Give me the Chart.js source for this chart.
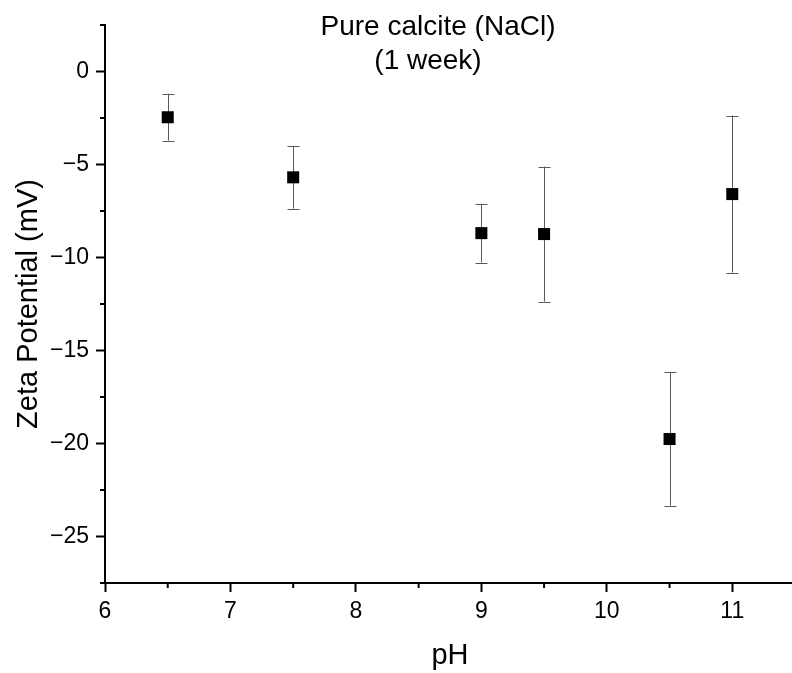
<!DOCTYPE html>
<html>
<head>
<meta charset="utf-8">
<script src="https://cdn.jsdelivr.net/npm/chart.js@4.4.1/dist/chart.umd.min.js"></script>
<style>
  html, body { margin: 0; padding: 0; background: #fff; overflow: hidden; }
  .chart-container { width: 795px; height: 673px; }
</style>
</head>
<body>
<div class="chart-container">
  <canvas id="zetaChart" width="795" height="673"></canvas>
</div>
<script>
// --- data ---
const phValues = [6.5, 7.5, 9, 9.5, 10.5, 11];
const zetaValues = [-2.46, -5.69, -8.69, -8.74, -19.76, -6.59];
const zetaErrors = [1.26, 1.68, 1.58, 3.63, 3.58, 4.22];

const xTickValues = [6, 7, 8, 9, 10, 11];
const yTickValues = [-25, -20, -15, -10, -5, 0];
const xMinorTicks = [6.5, 7.5, 8.5, 9.5, 10.5, 11.5];
const yMinorTicks = [2.5, -2.5, -7.5, -12.5, -17.5, -22.5, -27.5];

const titleLines = ['Pure calcite (NaCl)', '(1 week)'];
const FONT = '"Liberation Sans", Arial, sans-serif';

const minus = (v) => String(v).replace('-', '\u2212');

// error bars, drawn through the chart scales
const errorBars = {
  id: 'errorBars',
  beforeDatasetsDraw(chart) {
    const { ctx, scales: { x, y } } = chart;
    ctx.save();
    ctx.strokeStyle = '#5a5a5a';
    ctx.lineWidth = 1;
    phValues.forEach((ph, i) => {
      const px = Math.round(x.getPixelForValue(ph)) + 0.5;
      const top = y.getPixelForValue(zetaValues[i] + zetaErrors[i]);
      const bot = y.getPixelForValue(zetaValues[i] - zetaErrors[i]);
      ctx.beginPath();
      ctx.moveTo(px, top); ctx.lineTo(px, bot);
      ctx.moveTo(px - 6, Math.round(top) + 0.5); ctx.lineTo(px + 6, Math.round(top) + 0.5);
      ctx.moveTo(px - 6, Math.round(bot) + 0.5); ctx.lineTo(px + 6, Math.round(bot) + 0.5);
      ctx.stroke();
    });
    ctx.restore();
  }
};

// minor ticks (Chart.js has none for linear axes)
const minorTicks = {
  id: 'minorTicks',
  afterDraw(chart) {
    const { ctx, chartArea, scales: { x, y } } = chart;
    ctx.save();
    ctx.strokeStyle = '#000';
    ctx.lineWidth = 2;
    ctx.beginPath();
    xMinorTicks.forEach(v => {
      const px = x.getPixelForValue(v);
      ctx.moveTo(px, chartArea.bottom); ctx.lineTo(px, chartArea.bottom + 5);
    });
    yMinorTicks.forEach(v => {
      const py = y.getPixelForValue(v);
      ctx.moveTo(chartArea.left, py); ctx.lineTo(chartArea.left - 5, py);
    });
    ctx.stroke();
    ctx.restore();
  }
};

// two-line title sitting inside the plot
const plotTitle = {
  id: 'plotTitle',
  afterDraw(chart) {
    const { ctx } = chart;
    ctx.save();
    ctx.fillStyle = '#000';
    ctx.font = '28px ' + FONT;
    ctx.textAlign = 'center';
    ctx.textBaseline = 'alphabetic';
    ctx.fillText(titleLines[0], 438, 35);
    ctx.fillText(titleLines[1], 428, 69);
    ctx.restore();
  }
};

const ctx = document.getElementById('zetaChart').getContext('2d');

new Chart(ctx, {
  type: 'scatter',
  data: {
    datasets: [{
      data: phValues.map((ph, i) => ({ x: ph, y: zetaValues[i] })),
      pointStyle: 'rect',
      pointRadius: 8.5,
      backgroundColor: '#000',
      borderWidth: 0
    }]
  },
  options: {
    responsive: false,
    animation: false,
    layout: { autoPadding: false, padding: { top: 25, right: 0, left: 0, bottom: 0 } },
    plugins: {
      legend: { display: false },
      tooltip: { enabled: false },
      title: { display: false }
    },
    scales: {
      x: {
        type: 'linear',
        min: 6,
        max: 11.5,
        afterBuildTicks: (axis) => { axis.ticks = xTickValues.map(v => ({ value: v })); },
        afterFit: (axis) => { axis.height = 90; axis.paddingLeft = 0; axis.paddingRight = 0; },
        grid: { drawOnChartArea: false, drawTicks: true, tickLength: 9, tickColor: '#000', tickWidth: 2 },
        border: { display: true, color: '#000', width: 2 },
        ticks: { color: '#000', font: { family: FONT, size: 23 }, padding: 6, maxRotation: 0, callback: minus },
        title: { display: true, text: 'pH', color: '#000', font: { family: FONT, size: 29 }, padding: { top: 0, bottom: 0 } }
      },
      y: {
        type: 'linear',
        min: -27.5,
        max: 2.5,
        afterBuildTicks: (axis) => { axis.ticks = yTickValues.map(v => ({ value: v })); },
        afterFit: (axis) => { axis.width = 105; axis.paddingTop = 0; axis.paddingBottom = 0; },
        grid: { drawOnChartArea: false, drawTicks: true, tickLength: 9, tickColor: '#000', tickWidth: 2 },
        border: { display: true, color: '#000', width: 2 },
        ticks: { color: '#000', font: { family: FONT, size: 23 }, padding: 7, callback: minus },
        title: { display: true, text: 'Zeta Potential (mV)', color: '#000', font: { family: FONT, size: 29 }, padding: { top: 12, bottom: 0 } }
      }
    }
  },
  plugins: [errorBars, minorTicks, plotTitle]
});
</script>
</body>
</html>
